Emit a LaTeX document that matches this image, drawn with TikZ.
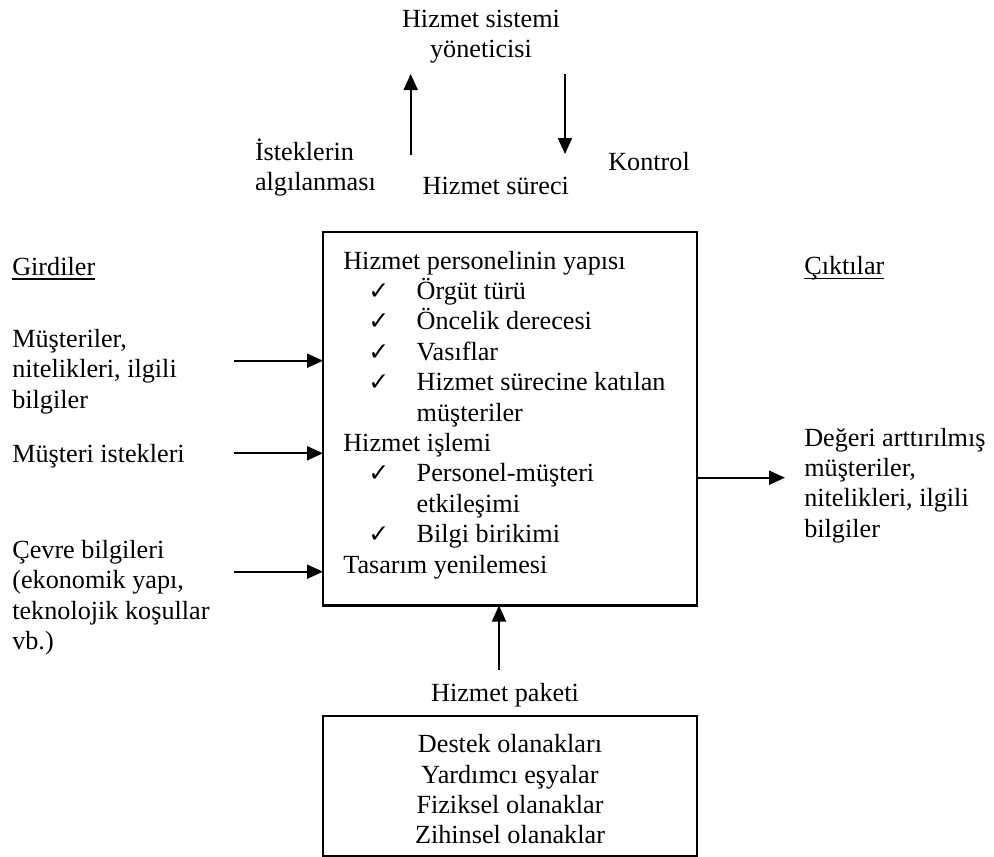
\documentclass[tikz,border=0pt]{standalone}
\usepackage{fontspec}
\setmainfont{Liberation Serif}
\newfontfamily\symfont{DejaVu Sans}
\usetikzlibrary{arrows.meta}
% check-mark bullet and hanging indent for the list inside the process box
\newcommand{\chk}{\makebox[73.4pt][l]{\hspace{25pt}{\symfont\fontsize{25}{25}\selectfont ✓}}}
\newcommand{\ind}{\hspace*{73.4pt}}
\begin{document}
% multi-line nodes are placed by the baseline of their last line
\begin{tikzpicture}[x=1pt,y=-1pt,
  every node/.style={inner sep=0pt, outer sep=0pt},
  txt/.style={font=\fontsize{26.2}{30.4}\selectfont, anchor=base west, align=left},
  ctxt/.style={font=\fontsize{26.2}{30.4}\selectfont, anchor=base, align=center},
  frame/.style={draw, line width=2.3pt, minimum width=374pt},
  arr/.style={line width=2pt, -{Triangle[length=16pt,width=14pt]}},
  uline/.style={line width=1.7pt},
]
\useasboundingbox (0,0) rectangle (994,857);

% boxes
\node[frame, minimum height=373.5pt] (proc) at (510,418.75) {};
\node[frame, minimum height=140pt] (pkgbox) at (510,786) {};

% top: manager and feedback loop
\node[ctxt] (mgr) at (481,57.4) {Hizmet sistemi\\yöneticisi};
\node[txt] (req) at (255,190.4) {İsteklerin\\algılanması};
\node[txt] (proctitle) at (422.7,194.3) {Hizmet süreci};
\node[txt] (ctrl) at (608.3,170) {Kontrol};
\coordinate (upS) at (410.7,155);
\coordinate (upE) at (410.7,74);
\coordinate (dnS) at (565,74);
\coordinate (dnE) at (565,154);
\draw[arr] (upS) -- (upE);
\draw[arr] (dnS) -- (dnE);

% inputs
\node[txt] (inhead) at (12.3,275) {Girdiler};
\draw[uline] ([yshift=-4.3pt]inhead.base west) -- ([yshift=-4.3pt]inhead.base east);
\node[txt] (in1) at (12.3,408.1) {Müşteriler,\\nitelikleri, ilgili\\bilgiler};
\node[txt] (in2) at (12.3,462.7) {Müşteri istekleri};
\node[txt] (in3) at (12.3,649.5) {Çevre bilgileri\\(ekonomik yapı,\\teknolojik koşullar\\vb.)};
\coordinate (a1) at (234.3,360.7);
\coordinate (a2) at (234.3,453.3);
\coordinate (a3) at (234.3,571.7);
\draw[arr] (a1) -- (a1 -| proc.west);
\draw[arr] (a2) -- (a2 -| proc.west);
\draw[arr] (a3) -- (a3 -| proc.west);

% process box contents
\node[txt] (proctext) at (343.3,573) {Hizmet personelinin yapısı\\
  \chk Örgüt türü\\
  \chk Öncelik derecesi\\
  \chk Vasıflar\\
  \chk Hizmet sürecine katılan\\
  \ind müşteriler\\
  Hizmet işlemi\\
  \chk Personel-müşteri\\
  \ind etkileşimi\\
  \chk Bilgi birikimi\\
  Tasarım yenilemesi};

% outputs
\node[txt] (outhead) at (804.3,274.3) {Çıktılar};
\draw[uline] ([yshift=-4.3pt]outhead.base west) -- ([yshift=-4.3pt]outhead.base east);
\node[txt] (out) at (804.3,537.2) {Değeri arttırılmış\\müşteriler,\\nitelikleri, ilgili\\bilgiler};
\coordinate (oE) at (785,477.7);
\draw[arr] (oE -| proc.east) -- (oE);

% service package
\node[ctxt] (pkglabel) at (505,701.7) {Hizmet paketi};
\coordinate (pS) at (499,670);
\draw[arr] (pS) -- (pS |- proc.south);
\node[ctxt] (pkgtext) at (510,843.9) {Destek olanakları\\Yardımcı eşyalar\\Fiziksel olanaklar\\Zihinsel olanaklar};
\end{tikzpicture}
\end{document}
